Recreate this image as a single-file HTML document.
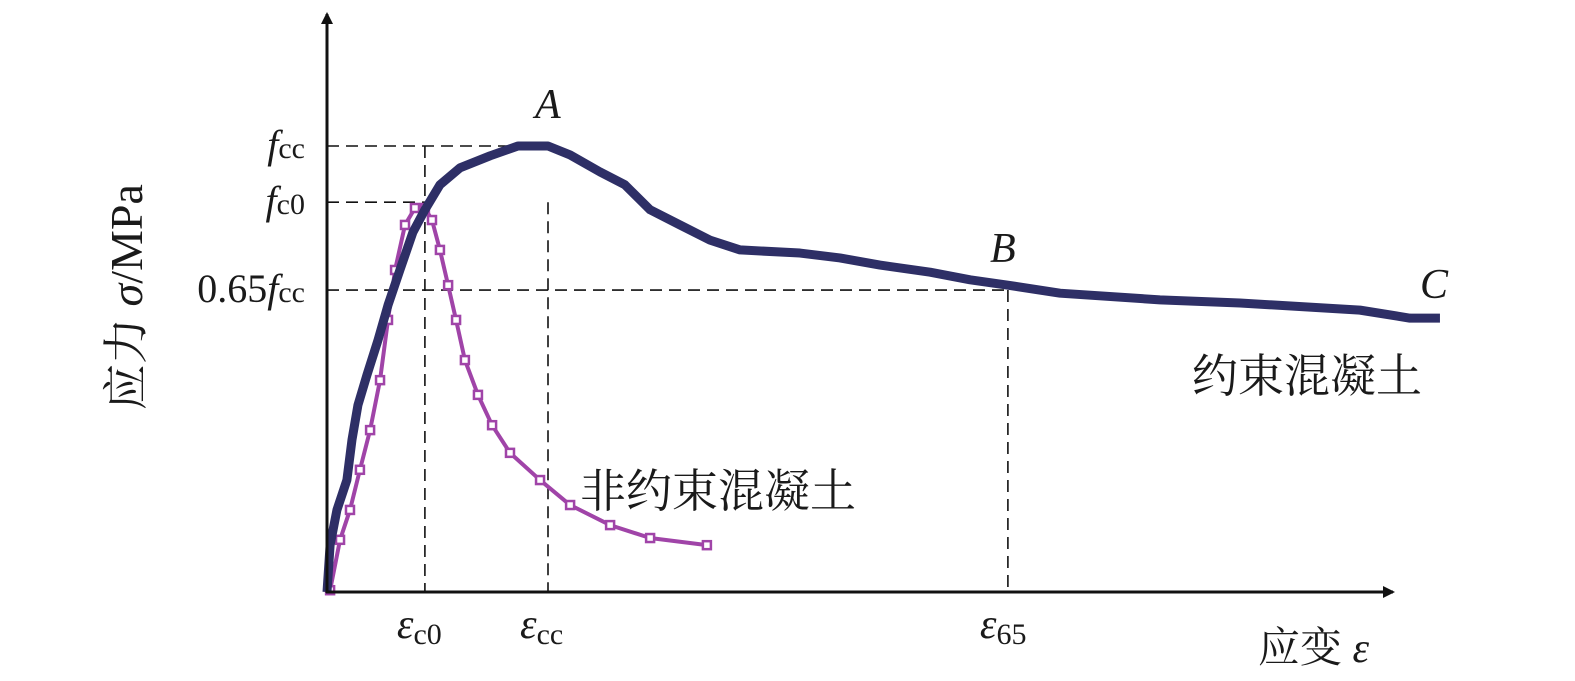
<!DOCTYPE html>
<html><head><meta charset="utf-8"><style>
html,body{margin:0;padding:0;background:#fff;}
svg{display:block;}
text{font-family:"Liberation Serif","Noto Serif CJK SC",serif;fill:#1a1a1a;}
</style></head><body>
<svg id="chart" width="1575" height="681" viewBox="0 0 1575 681" xmlns="http://www.w3.org/2000/svg">
<defs>
<marker id="arr" markerWidth="12" markerHeight="12" refX="10" refY="6" orient="auto" markerUnits="userSpaceOnUse"><path d="M0,0 L12,6 L0,12 Z" fill="#111"/></marker>
</defs>
<g id="refs"></g>
<g id="series"></g>
<line x1="327" y1="593" x2="327" y2="14" stroke="#111" stroke-width="3" marker-end="url(#arr)"/>
<line x1="326" y1="592" x2="1393" y2="592" stroke="#111" stroke-width="3" marker-end="url(#arr)"/>
<g id="ticks"></g>
<text transform="translate(142,297) rotate(-90)" text-anchor="middle" font-size="46">应力 <tspan font-style="italic">σ</tspan>/MPa</text>
<text x="1258" y="662" font-size="42">应变 <tspan font-style="italic">ε</tspan></text>
<text x="535" y="118" font-size="42" font-style="italic">A</text>
<text x="990" y="262" font-size="42" font-style="italic">B</text>
<text x="1420" y="298" font-size="42" font-style="italic">C</text>
<text x="1192" y="392" font-size="46">约束混凝土</text>
<text x="580" y="507" font-size="46">非约束混凝土</text>
</svg>
<script>
const confinedStrain=[0,0.014,0.045,0.090,0.113,0.140,0.181,0.231,0.276,0.330,0.389,0.443,0.511,0.602,0.738,0.864,1.0,1.10,1.235,1.348,1.462,1.597,1.733,1.869,2.140,2.321,2.502,2.729,2.910,3.081,3.317,3.769,4.131,4.674,4.900,5.036];
const confinedStress=[0,0.105,0.184,0.251,0.341,0.419,0.487,0.565,0.643,0.722,0.807,0.857,0.913,0.951,0.978,1.0,1.0,0.980,0.942,0.913,0.857,0.823,0.789,0.767,0.760,0.749,0.733,0.717,0.700,0.688,0.670,0.655,0.648,0.632,0.614,0.614];
const unconfinedStrain=[0.014,0.059,0.104,0.149,0.195,0.240,0.276,0.308,0.353,0.398,0.443,0.475,0.511,0.548,0.584,0.624,0.683,0.747,0.828,0.964,1.100,1.281,1.462,1.719];
const unconfinedStress=[0.004,0.117,0.184,0.274,0.363,0.475,0.610,0.722,0.823,0.861,0.861,0.834,0.767,0.688,0.610,0.520,0.442,0.374,0.312,0.251,0.195,0.150,0.121,0.105];
const stressTickValues=[1.0,0.874,0.677];
const stressTickLabels=[["f","cc",""],["f","c0",""],["f","cc","0.65"]];
const strainTickValues=[0.443,1.0,3.081];
const strainTickLabels=[["ε","c0"],["ε","cc"],["ε","65"]];
const refLineEnds=[1.0,0.443,3.081];

const X0=327,Y0=592,XS=221,YS=446;
function sx(v){return X0+v*XS;}
function sy(v){return Y0-v*YS;}
const NS="http://www.w3.org/2000/svg";
function mk(tag,attrs,parent){const e=document.createElementNS(NS,tag);for(const k in attrs)e.setAttribute(k,attrs[k]);parent.appendChild(e);return e;}
const refs=document.getElementById('refs'),ser=document.getElementById('series'),ticks=document.getElementById('ticks');

stressTickValues.forEach((v,i)=>{
  const l=mk('line',{x1:X0,y1:sy(v),x2:sx(refLineEnds[i]),y2:sy(v),stroke:'#111','stroke-width':1.6,'stroke-dasharray':'12,7'},refs);
  
  
  const t=mk('text',{x:305,y:sy(v)+12,'text-anchor':'end','font-size':40},ticks);
  
  
  const lab=stressTickLabels[i];
  if(lab[2]){const a=mk('tspan',{},t);a.textContent=lab[2];}
  const f=mk('tspan',{'font-style':'italic'},t);f.textContent=lab[0];
  const s=mk('tspan',{'font-size':30},t);s.textContent=lab[1];
});
strainTickValues.forEach((v,i)=>{
  const l=mk('line',{x1:sx(v),y1:sy(stressTickValues[i]),x2:sx(v),y2:Y0,stroke:'#111','stroke-width':1.6,'stroke-dasharray':'12,7'},refs);
  
  
  const t=mk('text',{x:sx(v)-28,y:638,'font-size':42},ticks);
  
  
  const e=mk('tspan',{'font-style':'italic'},t);e.textContent=strainTickLabels[i][0];
  const s=mk('tspan',{'font-size':30,dy:6},t);s.textContent=strainTickLabels[i][1];
});

const up=unconfinedStrain.map((v,i)=>sx(v)+','+sy(unconfinedStress[i])).join(' ');
const ul=mk('polyline',{points:up,fill:'none',stroke:'#a044a8','stroke-width':4,'stroke-linejoin':'round'},ser);


unconfinedStrain.forEach((v,i)=>{
  const r=mk('rect',{x:sx(v)-4,y:sy(unconfinedStress[i])-4,width:8,height:8,fill:'#fff',stroke:'#a044a8','stroke-width':2.5},ser);
  
  
});
const cp=confinedStrain.map((v,i)=>sx(v)+','+sy(confinedStress[i])).join(' ');
const cl=mk('polyline',{points:cp,fill:'none',stroke:'#2e2f66','stroke-width':9,'stroke-linejoin':'round'},ser);


</script>
</body></html>
